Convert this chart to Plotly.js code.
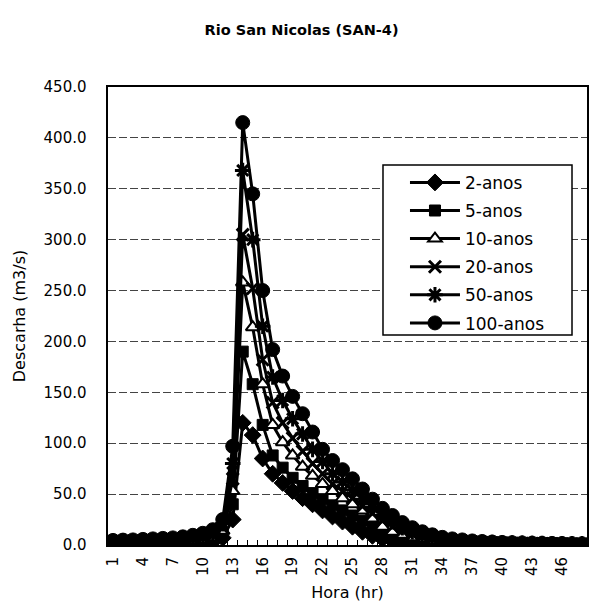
<!DOCTYPE html>
<html>
<head>
<meta charset="utf-8">
<script src="https://cdn.plot.ly/plotly-3.0.1.min.js"></script>
<style>html,body{margin:0;padding:0;background:#fff;}#chart{width:589px;height:607px;}</style>
</head>
<body>
<div id="chart"></div>
<script>
const hours = [1,2,3,4,5,6,7,8,9,10,11,12,13,14,15,16,17,18,19,20,21,22,23,24,25,26,27,28,29,30,31,32,33,34,35,36,37,38,39,40,41,42,43,44,45,46,47,48];
const tickHours = [1,4,7,10,13,16,19,22,25,28,31,34,37,40,43,46];
const tickLabels = ["1","4","7","10","13","16","19","22","25","28","31","34","37","40","43","46"];
const seriesNames = ["2-anos","5-anos","10-anos","20-anos","50-anos","100-anos"];

const q2 = [0.6,0.7,0.8,0.9,1,1.1,1.3,1.5,1.8,2.2,3,7,25,120,108,85,70,61,53,46,40,34,28,23,18,13,9,6,4,3,2.3,1.8,1.5,1.2,1,0.9,0.8,0.8,0.7,0.7,0.6,0.6,0.6,0.5,0.5,0.5,0.5,0.5];
const q5 = [1.4,1.5,1.6,1.8,2,2.2,2.5,2.8,3.3,4,5.5,11,40,190,158,118,88,76,66,58,51,45,39,34,29,24,19,13,9.5,7,5.3,4,3.2,2.6,2.1,1.8,1.5,1.3,1.1,1,0.9,0.8,0.8,0.7,0.7,0.6,0.6,0.6];
const q10 = [2,2.1,2.3,2.5,2.8,3.1,3.4,3.9,4.5,5.5,7.5,14,53,258,214,158,118,101,88,77,68,60,53,46,40,34,26,18,13,10,7.5,5.8,4.5,3.6,3,2.5,2.1,1.8,1.5,1.3,1.2,1.1,1,0.9,0.9,0.8,0.8,0.7];
const q20 = [2.6,2.8,3,3.3,3.6,4,4.4,5,5.8,7,9.5,17,65,305,252,182,140,120,105,92,80,70,60,53,46,38,31,24,18,14,10.5,8,6,4.8,3.9,3.2,2.6,2.2,1.9,1.7,1.5,1.4,1.3,1.2,1.1,1,0.9,0.9];
const q50 = [3.5,3.8,4,4.3,4.7,5.1,5.6,6.3,7.4,9,12,21,80,368,300,215,165,142,124,109,94,82,70,62,54,45,37,29,23,17,13,10,7.5,6,4.8,4,3.2,2.7,2.3,2,1.8,1.6,1.5,1.4,1.3,1.2,1.1,1];
const q100 = [4.5,4.8,5,5.5,6,6.5,7,8,9.5,11.5,15,25,97,415,345,250,192,166,146,129,111,94,83,74,65,55,45,36,29,22,17,13,10,7.5,6,5,4,3.4,2.9,2.5,2.2,2,1.8,1.6,1.5,1.4,1.3,1.2];

const allSeries = [q2,q5,q10,q20,q50,q100];
const markerDefs = [
  {symbol:'diamond', size:13, color:'#000', line:{color:'#000', width:1}},
  {symbol:'square', size:11, color:'#000', line:{color:'#000', width:1}},
  {symbol:'triangle-up', size:12, color:'#fff', line:{color:'#000', width:2}},
  {symbol:'x-thin-open', size:12, color:'#000', line:{color:'#000', width:3}},
  {symbol:'asterisk-open', size:13, color:'#000', line:{color:'#000', width:3}},
  {symbol:'circle', size:14, color:'#000', line:{color:'#000', width:1}}
];

const traces = allSeries.map((ys, i) => ({
  x: hours, y: ys, name: seriesNames[i], type: 'scatter', mode: 'lines+markers',
  line: {color:'#000', width:3}, marker: markerDefs[i],
  legendgroup: 'g' + i
}));

const fontFam = '"DejaVu Sans", "Liberation Sans", Arial, sans-serif';
const layout = {
  width: 589, height: 607,
  margin: {l:108, r:2, t:87, b:62},
  paper_bgcolor: '#fff', plot_bgcolor: '#fff',
  font: {family: fontFam, color:'#000', size: 15},
  title: {text: '<b>Rio San Nicolas (SAN-4)</b>', x: 0.512, xref: 'container', y: 0.951, yref:'container', yanchor:'middle', font:{size:14.5, family: fontFam}},
  showlegend: true,
  legend: {x: 0.62, y: 0.83, xanchor:'left', yanchor:'top', bgcolor:'rgba(0,0,0,0)', borderwidth:0,
           font:{size:17, family: fontFam}, tracegroupgap: 3, traceorder:'grouped', itemwidth: 50},
  shapes: [
    {type:'rect', xref:'paper', yref:'paper', x0:0.5741, x1:0.9687, y0:0.4585, y1:0.8297,
     fillcolor:'#fff', line:{color:'#000', width:1.5}, layer:'above'}
  ],
  xaxis: {
    range: [0.5, 48.5], tickvals: tickHours, ticktext: tickLabels, tickangle: -90,
    showgrid: false, zeroline: false, showline: true, linecolor:'#000', linewidth:2, mirror: true,
    ticks: '', ticklabelstandoff: 4,
    minor: {ticks:'inside', ticklen:5, tick0:0.5, dtick:1, tickcolor:'#000', showgrid:false},
    title: {text: 'Hora (hr)', font:{size:16, family: fontFam}, standoff: 12},
    tickfont: {size:15}
  },
  yaxis: {
    range: [0, 450], dtick: 50, tickformat: '.1f',
    showgrid: true, gridcolor:'#444', gridwidth:1, griddash:'8px,3px',
    zeroline: false, showline: true, linecolor:'#000', linewidth:2.5, mirror: true,
    ticks: '', ticklabelstandoff: 16,
    title: {text: 'Descarha (m3/s)', font:{size:16, family: fontFam}, standoff: 14},
    tickfont: {size:15}
  }
};

Plotly.newPlot('chart', traces, layout, {displayModeBar:false, staticPlot:true});
</script>
</body>
</html>
